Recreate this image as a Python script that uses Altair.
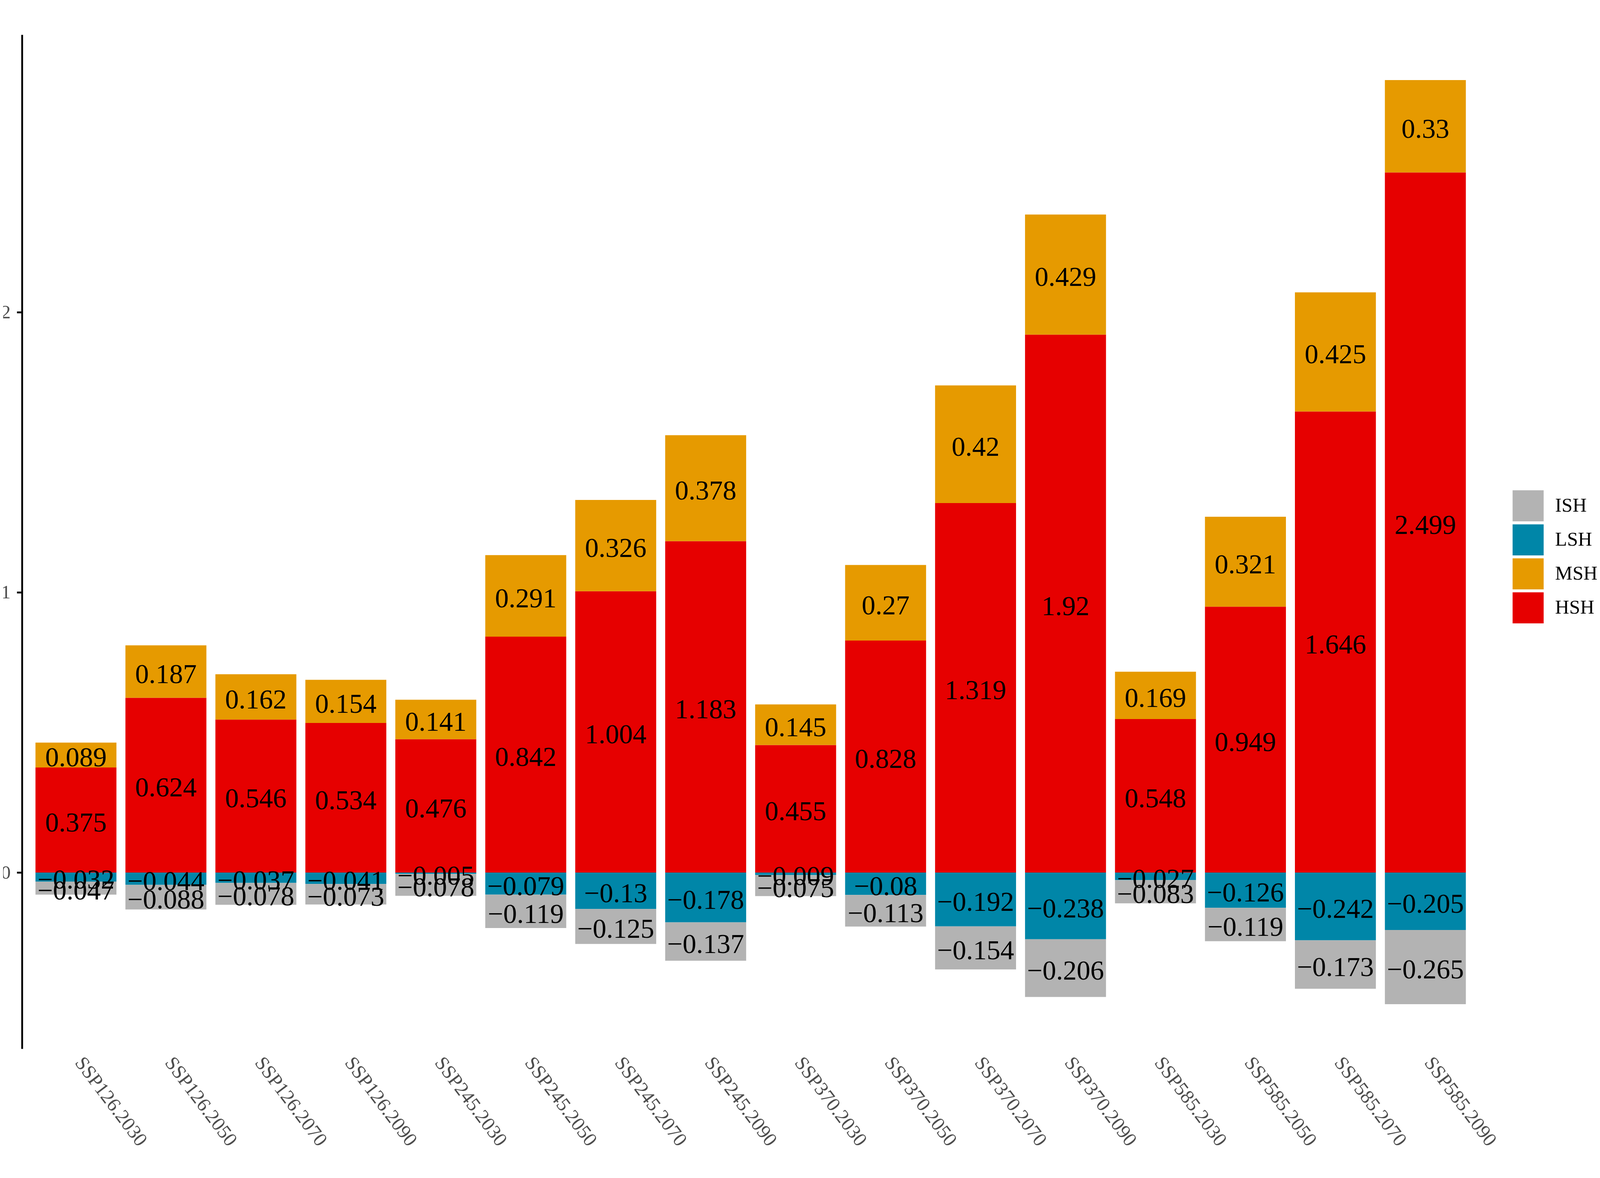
import altair as alt
import pandas as pd

scenarios = ["SSP126.2030", "SSP126.2050", "SSP126.2070", "SSP126.2090",
             "SSP245.2030", "SSP245.2050", "SSP245.2070", "SSP245.2090",
             "SSP370.2030", "SSP370.2050", "SSP370.2070", "SSP370.2090",
             "SSP585.2030", "SSP585.2050", "SSP585.2070", "SSP585.2090"]
HSH = [0.375, 0.624, 0.546, 0.534, 0.476, 0.842, 1.004, 1.183,
       0.455, 0.828, 1.319, 1.92, 0.548, 0.949, 1.646, 2.499]
MSH = [0.089, 0.187, 0.162, 0.154, 0.141, 0.291, 0.326, 0.378,
       0.145, 0.27, 0.42, 0.429, 0.169, 0.321, 0.425, 0.33]
LSH = [-0.032, -0.044, -0.037, -0.041, -0.005, -0.079, -0.13, -0.178,
       -0.009, -0.08, -0.192, -0.238, -0.027, -0.126, -0.242, -0.205]
ISH = [-0.047, -0.088, -0.078, -0.073, -0.078, -0.119, -0.125, -0.137,
       -0.075, -0.113, -0.154, -0.206, -0.083, -0.119, -0.173, -0.265]

classes = ["ISH", "LSH", "MSH", "HSH"]
colors = ["#B3B3B3", "#0086A8", "#E69A00", "#E60000"]
stack_rank = {"HSH": 0, "LSH": 0, "MSH": 1, "ISH": 1}

rows = []
for name, vals in [("HSH", HSH), ("MSH", MSH), ("LSH", LSH), ("ISH", ISH)]:
    for s, v in zip(scenarios, vals):
        rows.append({"scenario": s, "cls": name, "value": v,
                     "ord": stack_rank[name],
                     "label": str(v).replace("-", "\u2212")})
df = pd.DataFrame(rows)

FONT = "Liberation Serif"

base = alt.Chart(df).transform_stack(
    stack="value", groupby=["scenario"], as_=["y0", "y1"],
    sort=[alt.SortField("ord", order="ascending")]
).transform_calculate(mid="(datum.y0 + datum.y1) / 2")

x_enc = alt.X("scenario:N", sort=scenarios, title=None,
              scale=alt.Scale(paddingInner=0.1, paddingOuter=0.15),
              axis=alt.Axis(domain=False, ticks=False, labelAngle=53,
                            labelAlign="left", labelBaseline="middle",
                            labelPadding=28, labelOffset=8, labelFont=FONT,
                            labelLimit=0, labelFontSize=53,
                            labelColor="#4D4D4D"))

y_scale = alt.Scale(domain=[-0.629, 2.991], nice=False, zero=False)

bars = base.mark_bar().encode(
    x=x_enc,
    y=alt.Y("y0:Q", scale=y_scale, title=None,
            axis=alt.Axis(values=[0, 1, 2], grid=False, domainColor="black",
                          domainWidth=5, tickColor="black", tickWidth=5,
                          tickSize=14, labelPadding=17, labelFont=FONT,
                          labelFontSize=52, labelColor="#4D4D4D",
                          format="d")),
    y2="y1:Q",
    color=alt.Color("cls:N", scale=alt.Scale(domain=classes, range=colors),
                    legend=alt.Legend(title=None, orient="none",
                                      legendX=4033, legendY=1233,
                                      symbolType="square", symbolSize=7056,
                                      symbolStrokeWidth=0, symbolOpacity=1,
                                      labelFont=FONT, labelFontSize=53,
                                      labelColor="black", labelOffset=31,
                                      rowPadding=8, padding=0)),
)

text = base.mark_text(font=FONT, fontSize=74, color="black", dy=9,
                      align="center", baseline="middle").encode(
    x=alt.X("scenario:N", sort=scenarios),
    y=alt.Y("mid:Q", scale=y_scale),
    text="label:N",
)

chart = alt.layer(bars, text).properties(
    width=3943, height=2744,
    padding={"left": 51, "top": 0, "right": 318, "bottom": 256},
    autosize=alt.AutoSizeParams(type="none"),
    background="white",
).configure_view(strokeWidth=0)

chart.save("out.html", embed_options={"renderer": "svg", "actions": False})
